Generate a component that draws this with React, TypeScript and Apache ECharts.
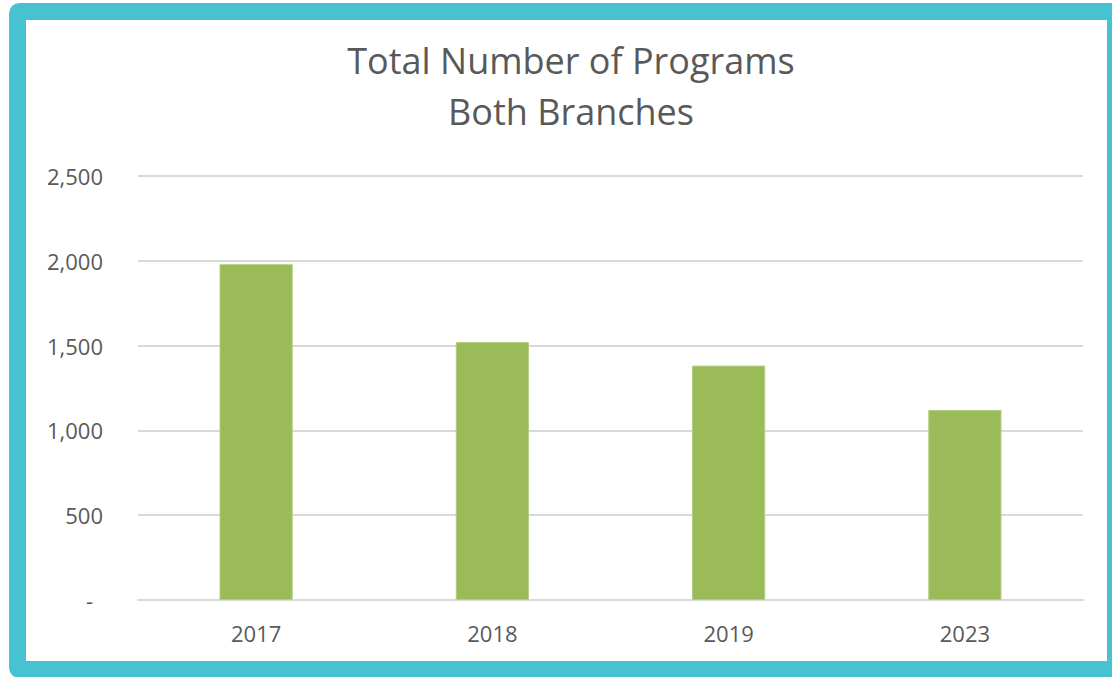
import React, { useEffect, useRef } from "react";
import * as echarts from "echarts";

const titleLines = ["Total Number of Programs", "Both Branches"];
const years = ["2017", "2018", "2019", "2023"];
const programs = [1980, 1521, 1382, 1121];
const yMin = 0;
const yMax = 2500;
const yStep = 500;

export default function App() {
  const ref = useRef<HTMLDivElement>(null);
  useEffect(() => {
    if (!ref.current) return;
    const chart = echarts.init(ref.current, null, { renderer: "svg" });
    const font = "'Open Sans', 'Noto Sans', sans-serif";
    chart.setOption({
      animation: false,
      backgroundColor: "#ffffff",
      title: {
        text: titleLines.join("\n"),
        left: 566,
        top: 30,
        textAlign: "center",
        textStyle: {
          fontFamily: font,
          fontSize: 36,
          fontWeight: "normal",
          color: "#595959",
          lineHeight: 51,
        },
      },
      graphic: [
        {
          type: "rect",
          shape: { x: 17.5, y: 11.5, width: 1098, height: 658, r: 2 },
          style: { fill: "none", stroke: "#47C2D0", lineWidth: 17 },
          z: 100,
        },
      ],
      grid: { left: 138, right: 29, top: 176, bottom: 77 },
      xAxis: {
        type: "category",
        data: years,
        axisLine: { show: true, lineStyle: { color: "#d9d9d9", width: 2 } },
        axisTick: { show: false },
        axisLabel: {
          margin: 22,
          fontFamily: font,
          fontSize: 22,
          color: "#595959",
        },
      },
      yAxis: {
        type: "value",
        min: yMin,
        max: yMax,
        interval: yStep,
        axisLine: { show: false },
        axisTick: { show: false },
        splitLine: { lineStyle: { color: "#d9d9d9", width: 2 } },
        axisLabel: {
          margin: 35,
          fontFamily: font,
          fontSize: 22,
          color: "#595959",
          formatter: (v: number) =>
            v === 0 ? "{d|-}" : v.toLocaleString("en-US"),
          rich: {
            d: {
              fontFamily: font,
              fontSize: 22,
              color: "#595959",
              padding: [0, 10, 0, 0],
            },
          },
        },
      },
      series: [
        {
          type: "bar",
          data: programs,
          barWidth: "31%",
          itemStyle: { color: "#9BBB59", borderColor: "#b3cf82", borderWidth: 1 },
        },
      ],
    });
    return () => chart.dispose();
  }, []);
  return (
    <div
      ref={ref}
      style={{ position: "fixed", left: 0, top: 0, width: 1112, height: 677 }}
    />
  );
}
